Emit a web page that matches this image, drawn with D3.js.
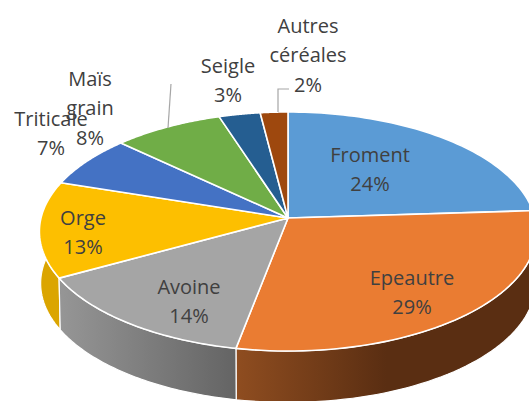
<!DOCTYPE html>
<html><head><meta charset="utf-8">
<script src="https://cdnjs.cloudflare.com/ajax/libs/d3/7.8.5/d3.min.js"></script>
<style>html,body{margin:0;padding:0;background:#fff;overflow:hidden}svg{display:block}</style>
</head><body><svg id="c" width="529" height="401"></svg>
<script>
const categories=["Froment","Epeautre","Avoine","Orge","Triticale","Maïs grain","Seigle","Autres céréales"];
const values=[24,29,14,13,7,8,3,2];
const topColors=["#5b9bd5","#ea7c32","#a5a5a5","#fdbf00","#4472c4","#70ad47","#255e91","#9e480e"];
const wallLeft=["#4a80b0","#8f4d20","#969696","#dba500","#3a62a8","#5f9540","#1f4f7b","#853c0b"];
const wallRight=["#3c6a92","#5a2e12","#646464","#dba500","#2e4f88","#4d7a34","#183e60","#6a300a"];
const wallEnd=[1,0.5,1,1,1,1,1,1];
const labelLines=[["Froment","24%"],["Epeautre","29%"],["Avoine","14%"],["Orge","13%"],["Triticale","7%"],["Maïs","grain","8%"],["Seigle","3%"],["Autres","céréales","2%"]];
const labelAnchors=[[370,154],[412,277],[189,286],[83,217],[51,118],[90,78],[228,65],[308,25]];

const svg=d3.select("#c"), defs=svg.append("defs");
const cx=288, cy=218, A=247, B=118, K=0.113, depth=52, shrink=0.995;
const px=d3.scaleLinear().domain([-1,1]).range([-A,A]);
const py=d3.scaleLinear().domain([-1,1]).range([B,-B]);
function project(t,lower){
  const u=Math.sin(t), v=Math.cos(t), w=1+K*v, s=lower?shrink:1;
  return [cx+px(u)/w*s, cy+py(v)/w*s+(lower?depth:0)];
}
const pie=d3.pie().sort(null).startAngle(0).endAngle(2*Math.PI)(values);
const line=d3.line();
const arcPts=(a,b,lower)=>d3.range(0,61).map(i=>project(a+(b-a)*i/60,lower));

// walls, back to front
const order=pie.map((d,i)=>({d,i})).sort((p,q)=>Math.cos((q.d.startAngle+q.d.endAngle)/2)-Math.cos((p.d.startAngle+p.d.endAngle)/2));
const walls=svg.append("g");
order.forEach(({d,i})=>{
  const up=arcPts(d.startAngle,d.endAngle,false), lo=arcPts(d.startAngle,d.endAngle,true).reverse();
  const xs=up.concat(lo).map(p=>p[0]);
  const g=defs.append("linearGradient").attr("id","w"+i).attr("gradientUnits","userSpaceOnUse")
    .attr("x1",d3.min(xs)).attr("x2",d3.max(xs)).attr("y1",0).attr("y2",0);
  g.append("stop").attr("offset",0).attr("stop-color",wallLeft[i]);
  g.append("stop").attr("offset",wallEnd[i]).attr("stop-color",wallRight[i]);
  walls.append("path").attr("d",line(up.concat(lo))+"Z").attr("fill",`url(#w${i})`)
    .attr("stroke","#fff").attr("stroke-width",1.2).attr("stroke-linejoin","round");
});
// top slices
const tops=svg.append("g");
pie.forEach((d,i)=>{
  const pts=[[cx,cy]].concat(arcPts(d.startAngle,d.endAngle,false));
  tops.append("path").attr("d",line(pts)+"Z").attr("fill",topColors[i])
    .attr("stroke","#fff").attr("stroke-width",1.6).attr("stroke-linejoin","round");
});
// leader lines
const leaderMais=[[171,84],[168,128]], leaderAutres=[[278,112],[278,89],[289,89]];
[leaderMais,leaderAutres].forEach(l=>svg.append("path").attr("d",line(l)).attr("fill","none").attr("stroke","#a6a6a6").attr("stroke-width",1.2));
// labels
const lh=29.5;
labelLines.forEach((ls,i)=>{
  ls.forEach((t,j)=>{
    svg.append("text").attr("x",labelAnchors[i][0]).attr("y",labelAnchors[i][1]+j*lh)
      .attr("text-anchor","middle").attr("dominant-baseline","central")
      .attr("font-family","'Open Sans',sans-serif").attr("font-size",20).attr("fill","#404040").text(t);
  });
});
</script></body></html>
